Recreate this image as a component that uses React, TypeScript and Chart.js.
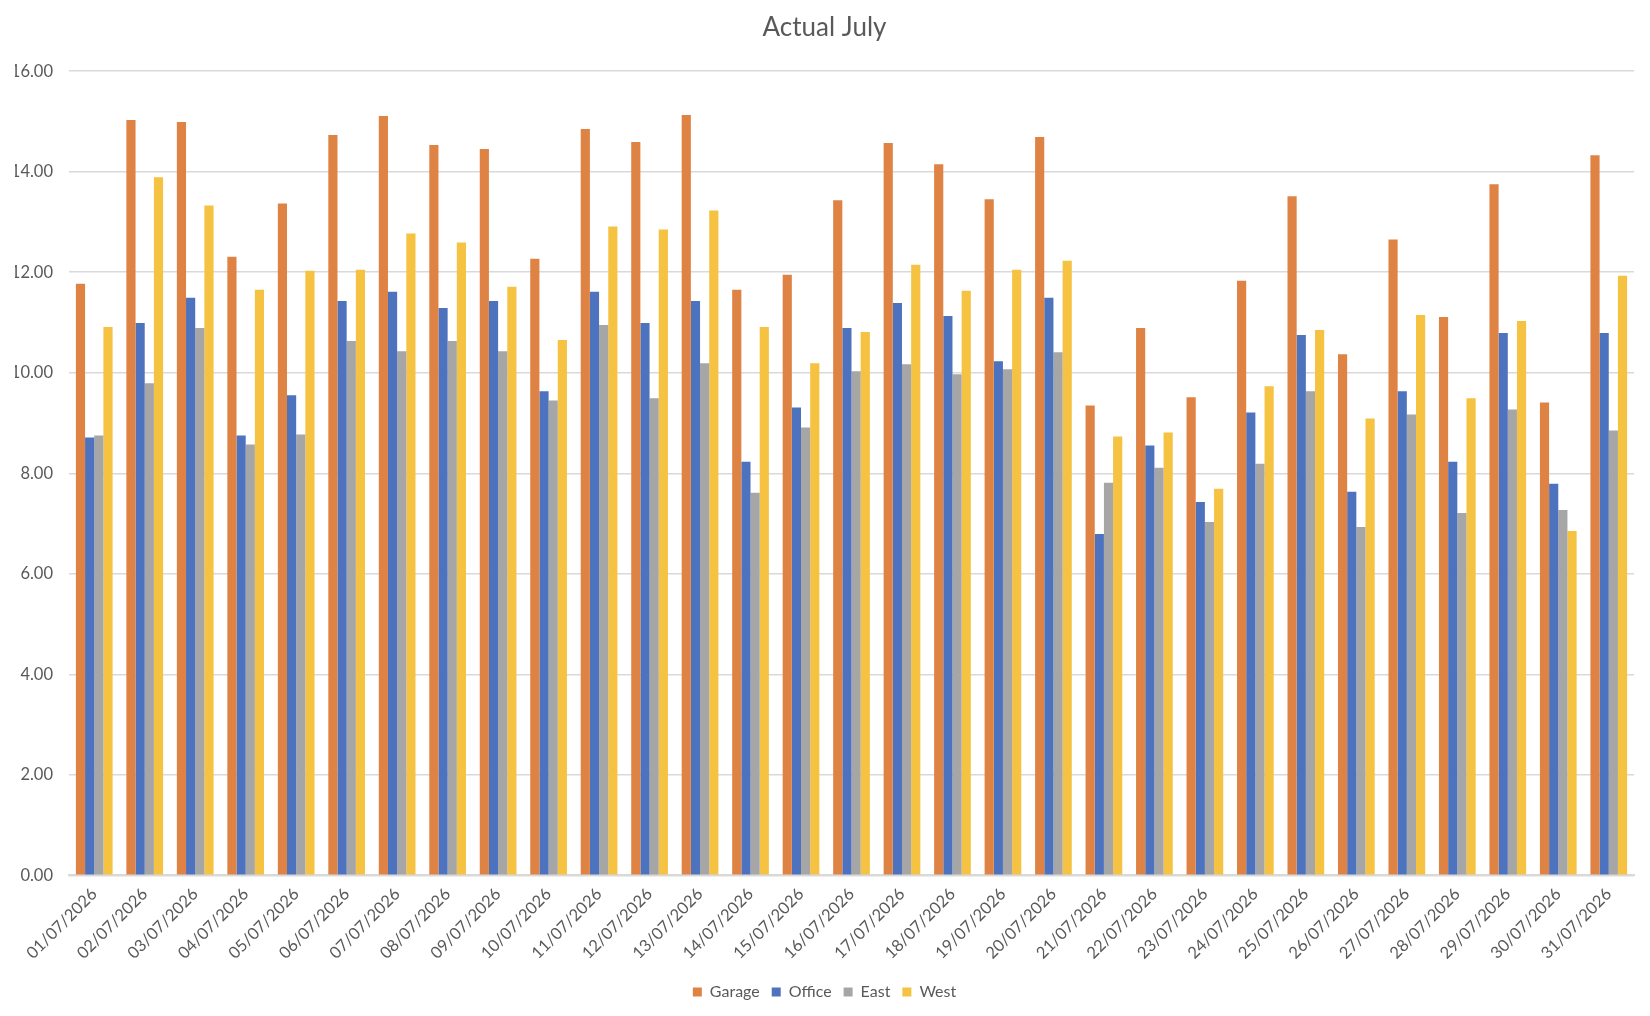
import React, { useEffect, useRef } from "react";
import { Chart, registerables } from "chart.js";

Chart.register(...registerables);

const categories = [
  "01/07/2026", "02/07/2026", "03/07/2026", "04/07/2026", "05/07/2026", "06/07/2026", "07/07/2026", "08/07/2026",
  "09/07/2026", "10/07/2026", "11/07/2026", "12/07/2026", "13/07/2026", "14/07/2026", "15/07/2026", "16/07/2026",
  "17/07/2026", "18/07/2026", "19/07/2026", "20/07/2026", "21/07/2026", "22/07/2026", "23/07/2026", "24/07/2026",
  "25/07/2026", "26/07/2026", "27/07/2026", "28/07/2026", "29/07/2026", "30/07/2026", "31/07/2026",
];

const garage = [11.77, 15.03, 14.99, 12.31, 13.37, 14.73, 15.11, 14.53, 14.45, 12.27, 14.85, 14.59, 15.13, 11.65, 11.95, 13.43, 14.57, 14.15, 13.45, 14.69, 9.35, 10.89, 9.51, 11.83, 13.51, 10.37, 12.65, 11.11, 13.75, 9.41, 14.33];
const office = [8.71, 10.99, 11.49, 8.75, 9.55, 11.43, 11.61, 11.29, 11.43, 9.63, 11.61, 10.99, 11.43, 8.23, 9.31, 10.89, 11.39, 11.13, 10.23, 11.49, 6.79, 8.55, 7.43, 9.21, 10.75, 7.63, 9.63, 8.23, 10.79, 7.79, 10.79];
const east = [8.75, 9.79, 10.89, 8.57, 8.77, 10.63, 10.43, 10.63, 10.43, 9.45, 10.95, 9.49, 10.19, 7.61, 8.91, 10.03, 10.17, 9.97, 10.07, 10.41, 7.81, 8.11, 7.03, 8.19, 9.63, 6.93, 9.17, 7.21, 9.27, 7.27, 8.85];
const west = [10.91, 13.89, 13.33, 11.65, 12.03, 12.05, 12.77, 12.59, 11.71, 10.65, 12.91, 12.85, 13.23, 10.91, 10.19, 10.81, 12.15, 11.63, 12.05, 12.23, 8.73, 8.81, 7.69, 9.73, 10.85, 9.09, 11.15, 9.49, 11.03, 6.85, 11.93];

const seriesNames = ["Garage", "Office", "East", "West"];
const seriesColors = ["#DF8344", "#4D72BE", "#A6A6A6", "#F5C242"];
const yTicks = [0, 2, 4, 6, 8, 10, 12, 14, 16];
const title = "Actual July";

export default function App() {
  const ref = useRef<HTMLCanvasElement | null>(null);

  useEffect(() => {
    document.body.style.margin = "0";
    const canvas = ref.current;
    if (!canvas) return;
    const font = "Lato, 'Liberation Sans', sans-serif";
    const values = [garage, office, east, west];
    const chart = new Chart(canvas, {
      type: "bar",
      data: {
        labels: categories,
        datasets: seriesNames.map((name, i) => ({
          label: name,
          data: values[i],
          backgroundColor: seriesColors[i],
          borderWidth: 0,
          categoryPercentage: 0.727,
          barPercentage: 1.0,
        })),
      },
      options: {
        responsive: false,
        animation: false,
        devicePixelRatio: 1,
        layout: { padding: { left: 15, right: 16, top: 0, bottom: 6 } },
        plugins: {
          title: {
            display: true,
            text: title,
            color: "#595959",
            font: { family: font, size: 26, weight: "normal" },
            padding: { top: 12, bottom: 28 },
          },
          legend: {
            position: "bottom",
            labels: {
              color: "#595959",
              font: { family: font, size: 16 },
              boxWidth: 9,
              boxHeight: 9,
              padding: 12,
            },
          },
          tooltip: { enabled: false },
        },
        scales: {
          x: {
            afterFit: (axis: any) => {
              axis.paddingLeft = 0;
              axis.paddingRight = 0;
            },
            grid: { display: false, drawTicks: false },
            border: { display: true, color: "#D9D9D9", width: 2 },
            ticks: {
              color: "#595959",
              font: { family: font, size: 16.5 },
              maxRotation: 45,
              minRotation: 45,
              autoSkip: false,
              padding: 9,
            },
          },
          y: {
            min: 0,
            max: 16,
            afterBuildTicks: (axis: any) => {
              axis.ticks = yTicks.map((v) => ({ value: v }));
            },
            afterFit: (axis: any) => {
              axis.width = 54;
            },
            grid: { color: "#D9D9D9", lineWidth: 1.5, drawTicks: false },
            border: { display: false },
            ticks: {
              color: "#595959",
              font: { family: font, size: 16.5 },
              padding: 16,
              callback: (v: any) => Number(v).toFixed(2),
            },
          },
        },
      },
    });
    return () => chart.destroy();
  }, []);

  return (
    <div style={{ position: "absolute", left: 0, top: 0, width: 1650, height: 1016, background: "#fff" }}>
      <canvas ref={ref} width={1650} height={1016} />
    </div>
  );
}
